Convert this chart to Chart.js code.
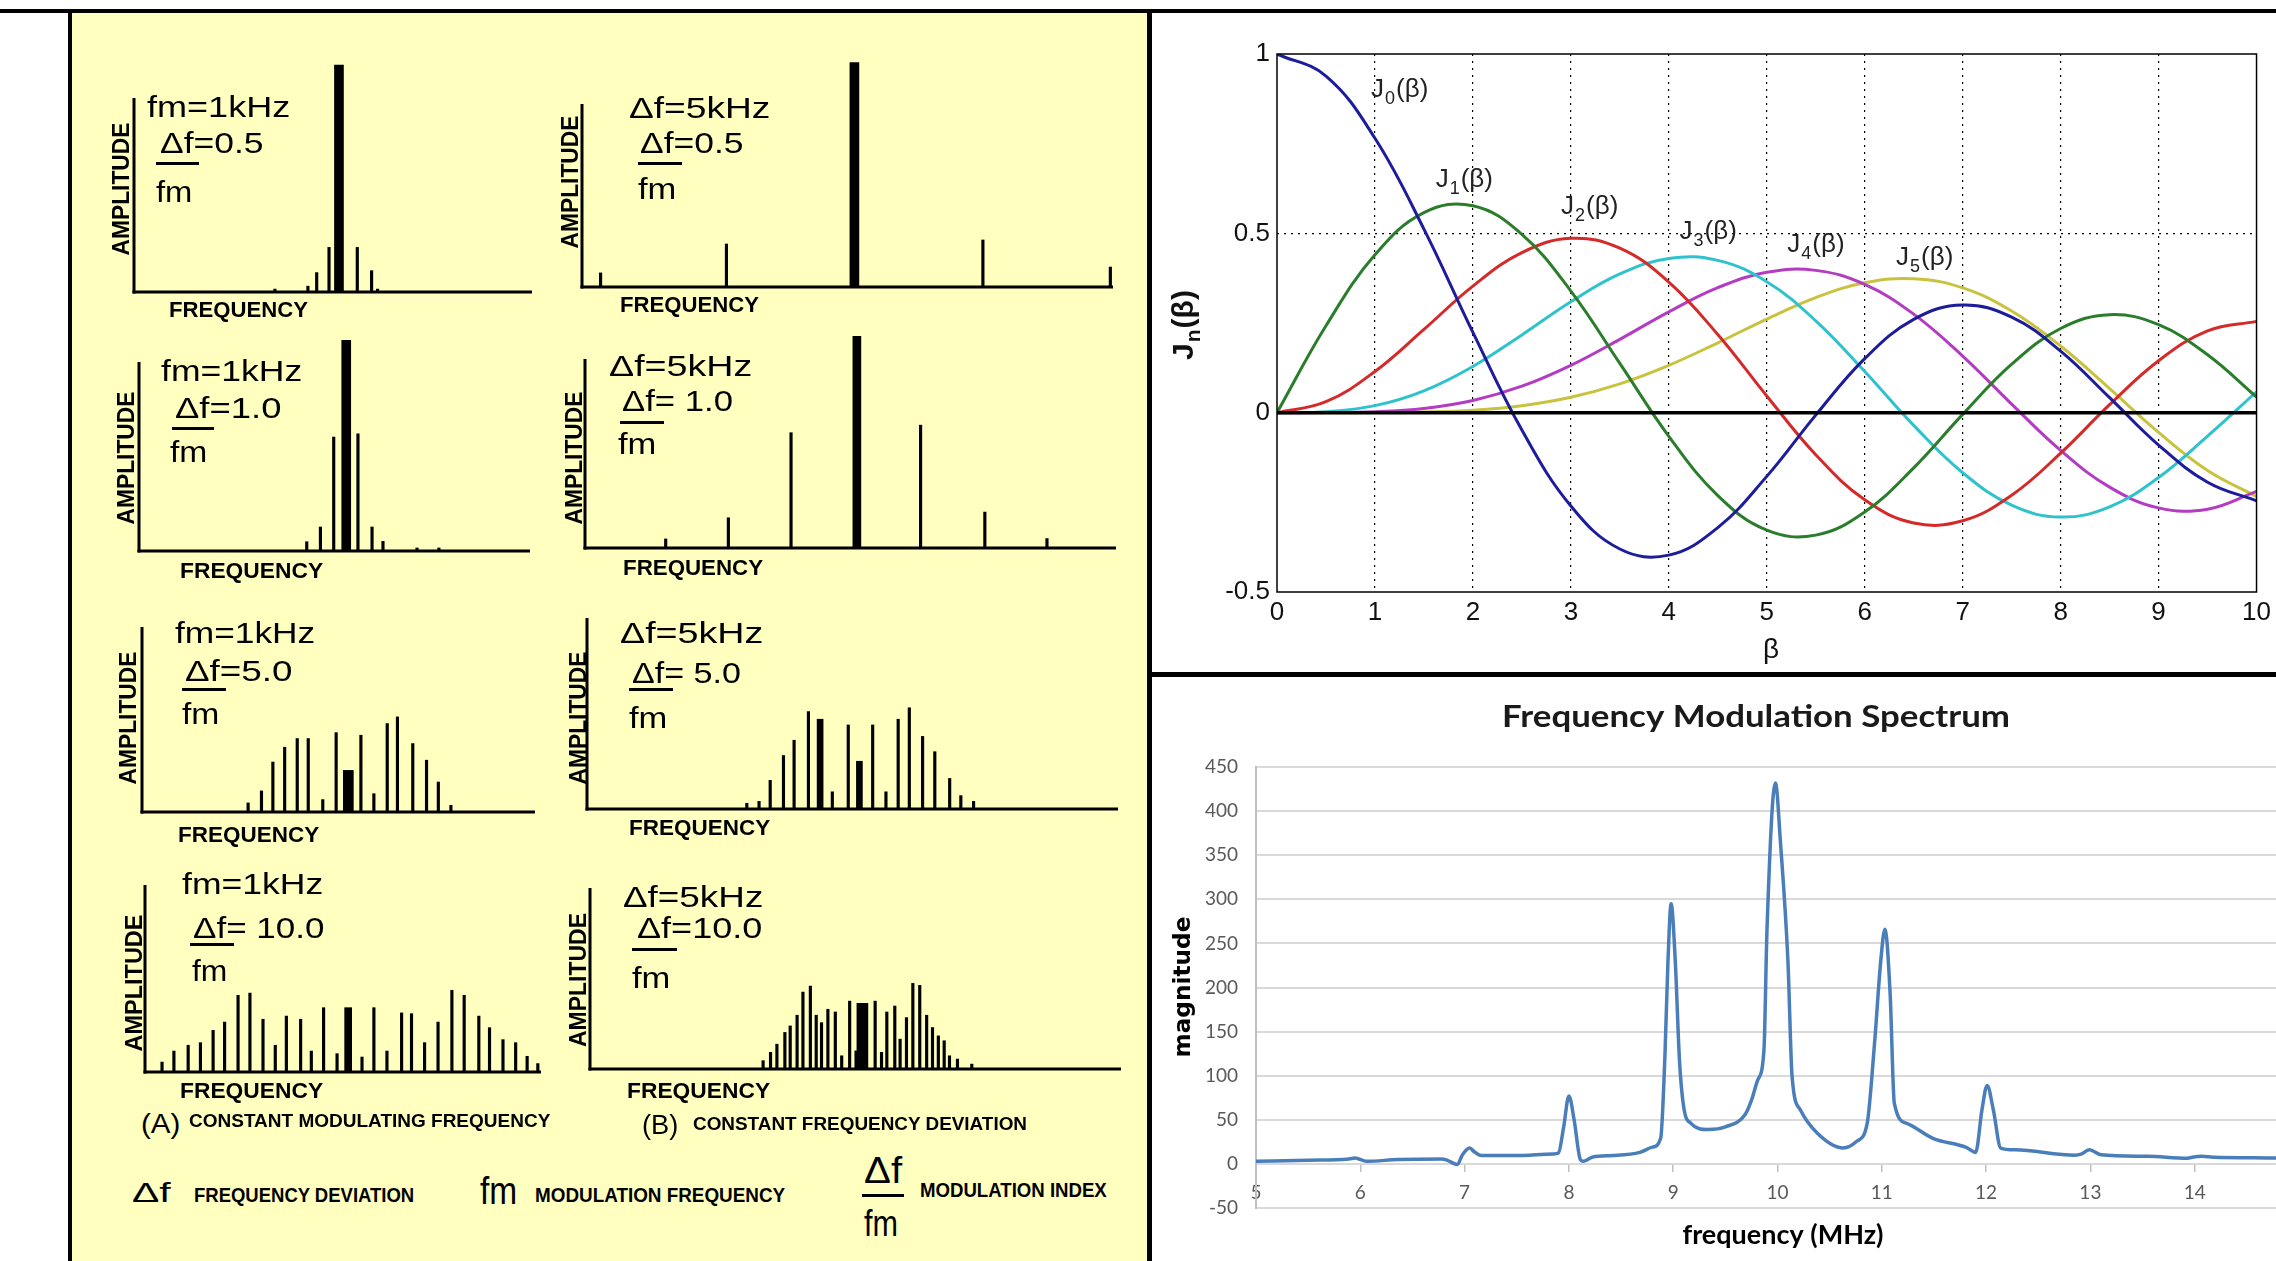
<!DOCTYPE html>
<html>
<head>
<meta charset="utf-8">
<script src="https://cdn.jsdelivr.net/npm/chart.js@4.4.1/dist/chart.umd.min.js"></script>
<style>
html, body { margin: 0; padding: 0; }
body { width: 2276px; height: 1261px; overflow: hidden; position: relative; background: #fff; font-family: "Liberation Sans", Arial, sans-serif; }
.blk { position: absolute; }
canvas { position: absolute; }
.t { position: absolute; white-space: nowrap; line-height: 1; color: #000; transform-origin: 0 0; }
</style>
</head>
<body>
<div class="blk" style="left:72px;top:13px;width:1075px;height:1248px;background:#ffffbf"></div>
<div class="blk" style="left:0;top:9px;width:2276px;height:4px;background:#000"></div>
<div class="blk" style="left:68px;top:9px;width:4px;height:1252px;background:#000"></div>
<div class="blk" style="left:1147px;top:9px;width:5px;height:1252px;background:#000"></div>
<div class="blk" style="left:1150px;top:672px;width:1126px;height:5px;background:#000"></div>
<canvas id="bessel" width="1124" height="659" style="left:1152px;top:13px"></canvas>
<canvas id="spec" width="1168" height="584" style="left:1152px;top:677px"></canvas>

<script>
// ---- Bessel functions J0..J5
const betaVals = [0, 0.5, 1, 1.5, 2, 2.5, 3, 3.5, 4, 4.5, 5, 5.5, 6, 6.5, 7, 7.5, 8, 8.5, 9, 9.5, 10];
const j0Vals = [1, 0.9385, 0.7652, 0.5118, 0.2239, -0.0484, -0.2601, -0.3801, -0.3971, -0.3205, -0.1776, -0.0068, 0.1506, 0.2601, 0.3001, 0.2663, 0.1717, 0.0419, -0.0903, -0.1939, -0.2459];
const j1Vals = [0, 0.2423, 0.4401, 0.5579, 0.5767, 0.4971, 0.3391, 0.1374, -0.0660, -0.2311, -0.3276, -0.3414, -0.2767, -0.1538, -0.0047, 0.1352, 0.2346, 0.2731, 0.2453, 0.1613, 0.0435];
const j2Vals = [0, 0.0306, 0.1149, 0.2321, 0.3528, 0.4461, 0.4861, 0.4586, 0.3641, 0.2178, 0.0466, -0.1173, -0.2429, -0.3074, -0.3014, -0.2303, -0.1130, 0.0223, 0.1448, 0.2279, 0.2546];
const j3Vals = [0, 0.0026, 0.0196, 0.0610, 0.1289, 0.2167, 0.3091, 0.3867, 0.4301, 0.4247, 0.3649, 0.2561, 0.1148, -0.0354, -0.1675, -0.2580, -0.2911, -0.2626, -0.1809, -0.0653, 0.0583];
const j4Vals = [0, 0.0002, 0.0025, 0.0118, 0.0340, 0.0738, 0.1320, 0.2044, 0.2811, 0.3485, 0.3913, 0.3967, 0.3577, 0.2747, 0.1578, 0.0239, -0.1053, -0.2077, -0.2654, -0.2691, -0.2196];
const j5Vals = [0, 0.0000, 0.0002, 0.0018, 0.0070, 0.0195, 0.0430, 0.0804, 0.1321, 0.1947, 0.2611, 0.3209, 0.3621, 0.3735, 0.3479, 0.2835, 0.1858, 0.0671, -0.0550, -0.1613, -0.2340];
const besselNames = ["0", "1", "2", "3", "4", "5"];
const betaTicks = [0, 1, 2, 3, 4, 5, 6, 7, 8, 9, 10];

// ---- FM spectrum (MHz, magnitude)
const specFreq = [5.00, 5.50, 5.89, 5.95, 6.06, 6.36, 6.78, 6.84, 6.93, 6.98, 7.05, 7.09, 7.16, 7.47, 7.85, 7.90, 7.95, 8.00, 8.05, 8.11, 8.14, 8.23, 8.42, 8.68, 8.80, 8.88, 8.92, 8.95, 8.98, 9.02, 9.06, 9.10, 9.17, 9.33, 9.50, 9.69, 9.75, 9.81, 9.87, 9.90, 9.98, 10.03, 10.10, 10.14, 10.22, 10.38, 10.63, 10.76, 10.86, 10.93, 10.99, 11.03, 11.08, 11.12, 11.24, 11.49, 11.81, 11.90, 11.96, 12.01, 12.07, 12.14, 12.28, 12.85, 12.91, 12.99, 13.10, 13.55, 13.93, 13.99, 14.07, 14.18, 14.69, 15.00];
const specMag = [3.0, 4.2, 5.6, 6.8, 3.0, 4.9, 5.6, 3.8, -0.8, 10.5, 18, 14, 9.4, 9.4, 11.3, 12.4, 42, 77, 50, 4.9, 3.0, 7.9, 9.4, 13, 19, 29, 120, 230, 295, 230, 118, 65, 46, 39, 42, 56, 72, 95, 129, 268, 432, 362, 230, 99, 61, 35, 18, 25.6, 46, 136, 230, 266, 193, 69, 46, 29, 18.8, 13, 61, 89, 61, 18, 16, 9.8, 11, 16, 10.5, 8.6, 6.4, 7.9, 8.6, 7.5, 6.8, 6.5];

// ---- small spectra, frequency in % of axis length, amplitude in % of axis height
const a1Freq = [35.4, 43.7, 45.9, 49.0, 56.1, 59.7, 61.2];
const a1Amp = [1.5, 3, 10, 23, 23, 11, 1.5];
const a1CarFreq = [51.5], a1CarAmp = [117];

const b1Freq = [3.5, 27.2, 75.5, 99.5];
const b1Amp = [7.7, 23.5, 25.7, 10.9];
const b1CarFreq = [51.3], b1CarAmp = [122.6];

const a2Freq = [42.9, 46.4, 49.8, 56.0, 59.6, 62.4, 71.1, 76.7];
const a2Amp = [4.9, 12.7, 60.3, 62, 12.7, 5.1, 1.6, 1.6];
const a2CarFreq = [53.0], a2CarAmp = [111.5];

const b2Freq = [15.2, 27.0, 38.8, 63.2, 75.3, 87.0];
const b2Amp = [4.8, 16, 61, 65, 19, 5];
const b2CarFreq = [51.2], b2CarAmp = [112];

const a3Freq = [27.0, 30.4, 33.3, 36.3, 39.5, 42.3, 46.0, 49.4, 55.7, 59.0, 62.4, 65.0, 68.9, 72.4, 75.4, 78.6];
const a3Amp = [4.9, 11.4, 27, 35, 39.7, 39.7, 6.7, 42.9, 41.5, 9.9, 47.8, 51.4, 37, 28, 16.2, 3.6];
const a3CarFreq = [52.5], a3CarAmp = [22.5];

const b3Freq = [30.1, 32.4, 34.5, 37.0, 39.0, 41.7, 46.2, 49.2, 53.8, 56.3, 58.6, 60.7, 63.2, 65.5, 68.3, 70.4, 72.8];
const b3Amp = [3, 4, 15, 28, 36, 51, 9, 44, 44, 9, 47, 53, 38, 30, 16, 7, 4];
const b3CarFreq = [43.9, 51.3], b3CarAmp = [47, 25];

const a4Freq = [4.3, 7.3, 10.9, 14.0, 17.2, 20.1, 23.5, 26.5, 29.8, 32.9, 35.7, 39.3, 42.0, 45.1, 48.5, 54.8, 57.8, 61.1, 64.8, 67.3, 70.6, 74.0, 77.5, 80.6, 84.3, 87.0, 90.4, 93.6, 96.5, 99.2];
const a4Amp = [5.3, 11.2, 14.3, 15.7, 22.3, 26.7, 41, 42.2, 28.2, 14.3, 29.9, 28.2, 11.2, 34.4, 9.8, 8, 34.4, 11.2, 31.6, 31.2, 15.7, 26.7, 43.7, 41, 29.9, 23.7, 17.3, 15.7, 8.4, 4.5];
const a4CarFreq = [51.3], a4CarAmp = [34.4];

const b4Freq = [32.6, 34.0, 35.2, 36.7, 37.7, 39.0, 40.1, 41.5, 42.6, 43.6, 44.8, 46.2, 47.4, 48.9, 50.1, 53.7, 54.9, 55.9, 57.4, 58.4, 59.6, 60.8, 62.1, 63.4, 64.5, 65.6, 66.7, 67.7, 69.2, 71.9];
const b4Amp = [4.6, 9.2, 13.7, 20.2, 23.8, 29.7, 42.5, 45.8, 29.7, 25.6, 33, 31.5, 7.3, 37.5, 10, 37.5, 9.2, 31.5, 34.8, 16.5, 28.4, 47.3, 46.2, 29.7, 22.9, 18.3, 15.6, 7.3, 5.5, 2.7];
const b4CarFreq = [51.3], b4CarAmp = [36.3];

Chart.defaults.font.family = "'Liberation Sans', Arial, sans-serif";

//text helpers for the scanned panel
function txt(s, x, capTop, size, w, bold) {
    const el = document.createElement("div");
    el.className = "t";
    el.textContent = s;
    el.style.fontSize = size + "px";
    if (bold) el.style.fontWeight = "bold";
    el.style.left = x + "px";
    el.style.top = (capTop - 0.13 * size) + "px";
    document.body.appendChild(el);
    el.style.transform = "scaleX(" + (w / el.offsetWidth) + ")";
}
function vtxt(s, cx, cy, size, len) {
    const el = document.createElement("div");
    el.className = "t";
    el.textContent = s;
    el.style.fontSize = size + "px";
    el.style.fontWeight = "bold";
    document.body.appendChild(el);
    const w = el.offsetWidth, h = el.offsetHeight;
    el.style.left = (cx - w / 2) + "px";
    el.style.top = (cy - h / 2) + "px";
    el.style.transformOrigin = "50% 50%";
    el.style.transform = "rotate(-90deg) scaleX(" + (len / w) + ")";
}
function rule(x, y, w) {
    const el = document.createElement("div");
    el.className = "blk";
    el.style.cssText = "left:" + x + "px;top:" + (y - 1.5) + "px;width:" + w + "px;height:3px;background:#000";
    document.body.appendChild(el);
}

//small spectrum axes
const axesPlugin = {
    id: "axes",
    afterDatasetsDraw(chart) {
        const {ctx, chartArea: a} = chart;
        ctx.save();
        ctx.fillStyle = "#000";
        ctx.fillRect(a.left - 1.5, a.top, 3, a.bottom - a.top + 1.5);
        ctx.fillRect(a.left - 1.5, a.bottom - 1.5, a.right - a.left + 1.5, 3);
        ctx.restore();
    }
};

const smallCharts = [
    {ox: 134, oy: 292, ay: 98, ex: 532, f: a1Freq, v: a1Amp, cf: a1CarFreq, cv: a1CarAmp, cw: 9},
    {ox: 582, oy: 287, ay: 104, ex: 1113, f: b1Freq, v: b1Amp, cf: b1CarFreq, cv: b1CarAmp, cw: 9},
    {ox: 139, oy: 551, ay: 362, ex: 530, f: a2Freq, v: a2Amp, cf: a2CarFreq, cv: a2CarAmp, cw: 9},
    {ox: 585, oy: 548, ay: 359, ex: 1116, f: b2Freq, v: b2Amp, cf: b2CarFreq, cv: b2CarAmp, cw: 8},
    {ox: 142, oy: 812, ay: 627, ex: 535, f: a3Freq, v: a3Amp, cf: a3CarFreq, cv: a3CarAmp, cw: 10},
    {ox: 587, oy: 809, ay: 618, ex: 1118, f: b3Freq, v: b3Amp, cf: b3CarFreq, cv: b3CarAmp, cw: 6},
    {ox: 145, oy: 1072, ay: 885, ex: 541, f: a4Freq, v: a4Amp, cf: a4CarFreq, cv: a4CarAmp, cw: 7},
    {ox: 590, oy: 1069, ay: 888, ex: 1121, f: b4Freq, v: b4Amp, cf: b4CarFreq, cv: b4CarAmp, cw: 11}
];

smallCharts.forEach(c => {
    const cvs = document.createElement("canvas");
    cvs.width = c.ex - c.ox + 24;
    cvs.height = c.oy - c.ay + 70;
    cvs.style.left = (c.ox - 12) + "px";
    cvs.style.top = (c.ay - 60) + "px";
    document.body.appendChild(cvs);
    new Chart(cvs, {
        type: "bar",
        data: {
            datasets: [
                {data: c.f.map((x, i) => ({x: x, y: c.v[i]})), backgroundColor: "#000", barThickness: 2.5, grouped: false, clip: false},
                {data: c.cf.map((x, i) => ({x: x, y: c.cv[i]})), backgroundColor: "#000", barThickness: c.cw, grouped: false, clip: false}
            ]
        },
        options: {
            responsive: false,
            animation: false,
            layout: {padding: {left: 12, right: 12, top: 60, bottom: 10}},
            plugins: {legend: {display: false}, tooltip: {enabled: false}},
            scales: {
                x: {type: "linear", min: 0, max: 100, display: false, offset: false},
                y: {min: 0, max: 100, display: false}
            }
        },
        plugins: [axesPlugin]
    });
});

// panel labels
txt("fm=1kHz", 147, 96, 30, 143); txt("\u0394f=0.5", 160, 132, 30, 104); rule(156, 163, 43); txt("fm", 156, 181, 30, 36);
txt("\u0394f=5kHz", 629, 97, 30, 141); txt("\u0394f=0.5", 640, 132, 30, 104); rule(638, 163, 44); txt("fm", 638, 178, 30, 38);
txt("fm=1kHz", 161, 360, 30, 141); txt("\u0394f=1.0", 175, 397, 30, 107); rule(172, 428, 42); txt("fm", 170, 441, 30, 37);
txt("\u0394f=5kHz", 609, 355, 30, 143); txt("\u0394f= 1.0", 622, 390, 30, 111); rule(620, 422, 44); txt("fm", 618, 433, 30, 38);
txt("fm=1kHz", 175, 622, 30, 140); txt("\u0394f=5.0", 185, 660, 30, 108); rule(182, 689, 44); txt("fm", 182, 703, 30, 37);
txt("\u0394f=5kHz", 620, 622, 30, 143); txt("\u0394f= 5.0", 632, 662, 30, 109); rule(629, 689, 44); txt("fm", 629, 707, 30, 38);
txt("fm=1kHz", 182, 873, 30, 141); txt("\u0394f= 10.0", 193, 917, 30, 132); rule(190, 944, 44); txt("fm", 192, 960, 30, 35);
txt("\u0394f=5kHz", 623, 886, 30, 140); txt("\u0394f=10.0", 637, 917, 30, 125); rule(632, 949, 45); txt("fm", 632, 967, 30, 38);

[[169, 302, 139], [620, 297, 139], [180, 563, 143], [623, 560, 140], [178, 827, 141], [629, 820, 141], [180, 1083, 143], [627, 1083, 143]]
    .forEach(p => txt("FREQUENCY", p[0], p[1], 22, p[2], true));
[[121, 189, 133], [570, 182, 133], [126, 458, 133], [574, 458, 133], [128, 718, 133], [578, 718, 133], [134, 983, 137], [578, 980, 134]]
    .forEach(p => vtxt("AMPLITUDE", p[0], p[1], 24, p[2]));

txt("(A)", 141, 1114, 28, 39); txt("CONSTANT MODULATING FREQUENCY", 189, 1114, 18, 361, true);
txt("(B)", 642, 1115, 28, 36); txt("CONSTANT FREQUENCY DEVIATION", 693, 1117, 18, 334, true);
txt("\u0394f", 132, 1183, 28, 38); txt("FREQUENCY DEVIATION", 194, 1188, 20, 220, true);
txt("fm", 480, 1177, 38, 37); txt("MODULATION FREQUENCY", 535, 1188, 20, 250, true);
txt("\u0394f", 864, 1158, 36, 38); rule(862, 1195, 42); txt("fm", 864, 1211, 36, 34); txt("MODULATION INDEX", 920, 1183, 20, 187, true);

// ---- Bessel chart
const curveColors = ["#1c1c9c", "#2a7d2a", "#d42a2a", "#2ec3cc", "#b33cc2", "#c9c23e"];
const labelAt = [[0.96, 0.905], [1.62, 0.654], [2.90, 0.578], [4.11, 0.508], [5.21, 0.472], [6.32, 0.436]];
const besselSeries = [j0Vals, j1Vals, j2Vals, j3Vals, j4Vals, j5Vals];

const besselDecor = {
    id: "besselDecor",
    afterDraw(chart) {
        const {ctx, chartArea: a, scales: {x, y}} = chart;
        ctx.save();
        ctx.strokeStyle = "#000";
        ctx.lineWidth = 1.5;
        ctx.strokeRect(a.left, a.top, a.right - a.left, a.bottom - a.top);
        ctx.fillStyle = "#222";
        ctx.textAlign = "left";
        ctx.textBaseline = "alphabetic";
        besselNames.forEach((n, i) => {
            let px = x.getPixelForValue(labelAt[i][0]);
            const py = y.getPixelForValue(labelAt[i][1]) + 9;
            ctx.font = "26px 'Liberation Sans'";
            ctx.fillText("J", px, py); px += ctx.measureText("J").width + 1;
            ctx.font = "18px 'Liberation Sans'";
            ctx.fillText(n, px, py + 7); px += ctx.measureText(n).width + 1;
            ctx.font = "26px 'Liberation Sans'";
            ctx.fillText("(\u03b2)", px, py);
        });
        // axis titles
        ctx.fillStyle = "#111";
        ctx.font = "28px 'Liberation Sans'";
        ctx.textAlign = "center";
        ctx.textBaseline = "middle";
        ctx.fillText("\u03b2", 619, 637);
        ctx.translate(33, 312);
        ctx.rotate(-Math.PI / 2);
        ctx.textAlign = "left";
        ctx.font = "bold 30px 'Liberation Sans'";
        const wJ = ctx.measureText("J").width, wP = ctx.measureText("(\u03b2)").width;
        ctx.font = "bold 21px 'Liberation Sans'";
        const wN = ctx.measureText("n").width;
        let p = -(wJ + wN + wP + 2) / 2;
        ctx.font = "bold 30px 'Liberation Sans'";
        ctx.fillText("J", p, 0); p += wJ + 1;
        ctx.font = "bold 21px 'Liberation Sans'";
        ctx.fillText("n", p, 9); p += wN + 1;
        ctx.font = "bold 30px 'Liberation Sans'";
        ctx.fillText("(\u03b2)", p, 0);
        ctx.restore();
    }
};

new Chart(document.getElementById("bessel"), {
    type: "line",
    data: {
        datasets: [
            {data: [{x: betaTicks[0], y: 0}, {x: betaTicks[betaTicks.length - 1], y: 0}], borderColor: "#000", borderWidth: 3.5, pointRadius: 0, tension: 0}
        ].concat(besselSeries.map((vals, i) => ({
            data: betaVals.map((b, k) => ({x: b, y: vals[k]})),
            borderColor: curveColors[i],
            borderWidth: 3,
            pointRadius: 0,
            tension: 0.4
        })))
    },
    options: {
        responsive: false,
        animation: false,
        layout: {padding: {left: 0, right: 11, top: 41, bottom: 0}},
        plugins: {legend: {display: false}, tooltip: {enabled: false}},
        scales: {
            x: {
                type: "linear", min: 0, max: 10,
                afterFit: s => { s.height = 80; },
                ticks: {stepSize: 1, padding: 5, color: "#111", font: {size: 26}, maxRotation: 0},
                grid: {drawTicks: false, lineWidth: 1.2, color: c => (c.tick && c.tick.value > 0 && c.tick.value < 10) ? "#000" : "rgba(0,0,0,0)"},
                border: {display: false, dash: [2, 5]}
            },
            y: {
                min: -0.5, max: 1,
                afterFit: s => { s.width = 125; },
                ticks: {stepSize: 0.5, padding: 7, color: "#111", font: {size: 26}, callback: v => String(v)},
                grid: {drawTicks: false, lineWidth: 1.2, color: c => (c.tick && c.tick.value === 0.5) ? "#000" : "rgba(0,0,0,0)"},
                border: {display: false, dash: [2, 5]}
            }
        }
    },
    plugins: [besselDecor]
});

// ---- FM spectrum chart
function fitText(ctx, s, cx, cy, font, w, rot) {
    ctx.save();
    ctx.font = font;
    ctx.textAlign = "center";
    ctx.textBaseline = "middle";
    ctx.translate(cx, cy);
    if (rot) ctx.rotate(-Math.PI / 2);
    ctx.scale(w / ctx.measureText(s).width, 1);
    ctx.fillText(s, 0, 0);
    ctx.restore();
}
const specDecor = {
    id: "specDecor",
    afterDraw(chart) {
        const ctx = chart.ctx;
        ctx.fillStyle = "#1a1a1a";
        fitText(ctx, "Frequency Modulation Spectrum", 604, 40, "bold 31px Lato", 508, false);
        ctx.fillStyle = "#000";
        fitText(ctx, "frequency (MHz)", 631, 559, "bold 26px Lato", 201, false);
        fitText(ctx, "magnitude", 32, 310, "bold 23px 'DejaVu Sans'", 141, true);
    }
};

new Chart(document.getElementById("spec"), {
    type: "line",
    data: {
        datasets: [{
            data: specFreq.map((f, i) => ({x: f, y: specMag[i]})),
            borderColor: "#4a7ebb",
            borderWidth: 3.5,
            pointRadius: 0,
            cubicInterpolationMode: "monotone"
        }]
    },
    options: {
        responsive: false,
        animation: false,
        layout: {padding: {left: 0, right: 11, top: 90, bottom: 53}},
        plugins: {legend: {display: false}, tooltip: {enabled: false}},
        scales: {
            x: {
                type: "linear", min: 5, max: 15,
                position: {y: 0},
                afterFit: s => { s.height = 0; },
                ticks: {stepSize: 1, padding: 10, color: "#595959", font: {family: "Lato", size: 19}, maxRotation: 0},
                grid: {drawOnChartArea: false, drawTicks: true, tickLength: 8, color: "#bfbfbf", lineWidth: 1.5},
                border: {display: false}
            },
            y: {
                min: -50, max: 450,
                afterFit: s => { s.width = 104; },
                ticks: {stepSize: 50, padding: 18, color: "#595959", font: {family: "Lato", size: 19}},
                grid: {drawTicks: false, color: "#d9d9d9", lineWidth: 2},
                border: {display: true, color: "#bfbfbf", width: 2}
            }
        }
    },
    plugins: [specDecor]
});
</script>
</body>
</html>
